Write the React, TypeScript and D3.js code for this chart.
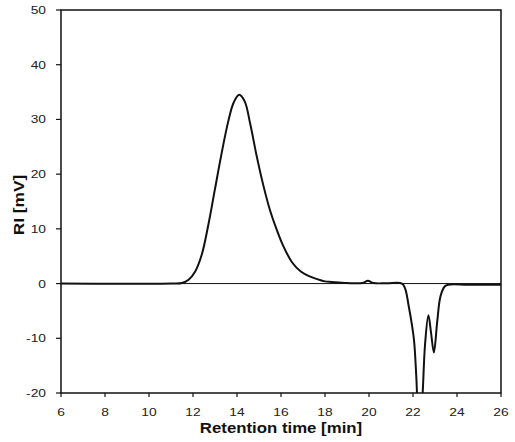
import React from 'react';
import * as d3 from 'd3';

// retention time [min] and RI signal [mV]
const times = [
  6, 11, 11.5, 11.8, 12.1, 12.4, 12.7, 13.0, 13.3, 13.6, 13.85, 14.1, 14.35, 14.6, 14.9,
  15.2, 15.5, 15.8, 16.1, 16.5, 16.9, 17.3, 17.8, 18.0, 18.3, 19.0, 19.7, 19.95, 20.2,
  20.8, 21.5, 21.65, 21.8, 21.95, 22.05, 22.15, 22.3, 22.44, 22.55, 22.7, 22.82, 22.95,
  23.1, 23.25, 23.45, 23.6, 24.5, 26,
];
const signal = [
  0, 0, 0.1, 0.7, 2.2, 5.3, 10.8, 17.3, 23.8, 29.6, 33.1, 34.5, 33.3, 29.2, 23.2,
  17.9, 13.4, 9.9, 6.9, 3.9, 2.2, 1.3, 0.6, 0.4, 0.3, 0.1, 0.1, 0.5, 0.1,
  0.05, 0, -1, -4, -7.5, -10.5, -17, -30, -20, -11, -5.8, -9, -12.6,
  -7, -2.3, -0.5, -0.2, -0.2, -0.2,
];

const xTicks = [6, 8, 10, 12, 14, 16, 18, 20, 22, 24, 26];
const yTicks = [-20, -10, 0, 10, 20, 30, 40, 50];

const W = 515;
const H = 442;
const margin = { top: 10, right: 14, bottom: 49, left: 61 };

const App: React.FC = () => {
  const x = d3.scaleLinear().domain([6, 26]).range([margin.left, W - margin.right]);
  const y = d3.scaleLinear().domain([-20, 50]).range([H - margin.bottom, margin.top]);

  const pts = times.map((t, i) => [t, signal[i]] as [number, number]);
  const line = d3.line<[number, number]>()
    .x(d => x(d[0]))
    .y(d => y(d[1]))
    .curve(d3.curveCatmullRom.alpha(0.5));

  const x0 = x(6), x1 = x(26), y0 = y(-20), y1 = y(50);
  const font = '"Liberation Sans", Arial, sans-serif';

  return (
    <svg width={W} height={H} style={{ position: 'absolute', left: 0, top: 0, background: '#fff' }}>
      <defs>
        <clipPath id="plot">
          <rect x={x0} y={y1} width={x1 - x0} height={y0 - y1} />
        </clipPath>
      </defs>

      {/* frame */}
      <rect x={x0} y={y1} width={x1 - x0} height={y0 - y1} fill="none" stroke="#111" strokeWidth={1.5} />

      {/* zero line */}
      <line x1={x0} x2={x1} y1={y(0)} y2={y(0)} stroke="#111" strokeWidth={1} />

      {/* y ticks */}
      {yTicks.map(v => (
        <g key={'y' + v}>
          <line x1={x0 - 5} x2={x0} y1={y(v)} y2={y(v)} stroke="#111" strokeWidth={1.2} />
          <text
            transform={`translate(${x0 - 15},${y(v) + 4}) scale(1.2,1)`}
            textAnchor="end" fontFamily={font} fontSize={11.5} fill="#222">
            {v}
          </text>
        </g>
      ))}

      {/* x ticks */}
      {xTicks.map(v => (
        <g key={'x' + v}>
          <line x1={x(v)} x2={x(v)} y1={y0} y2={y0 + 4} stroke="#111" strokeWidth={1.2} />
          <text
            transform={`translate(${x(v)},${y0 + 23}) scale(1.2,1)`}
            textAnchor="middle" fontFamily={font} fontSize={11.5} fill="#222">
            {v}
          </text>
        </g>
      ))}

      {/* trace */}
      <path d={line(pts) || ''} fill="none" stroke="#111" strokeWidth={2} clipPath="url(#plot)" strokeLinejoin="round" />

      {/* axis titles */}
      <text
        transform={`translate(${(x0 + x1) / 2},${H - 9}) scale(1.2,1)`}
        textAnchor="middle" fontFamily={font} fontSize={14} fontWeight="bold" fill="#111">
        Retention time [min]
      </text>
      <text
        transform={`translate(24,205) rotate(-90) scale(1.15,1)`}
        textAnchor="middle" fontFamily={font} fontSize={15} fontWeight="bold" fill="#111">
        RI [mV]
      </text>
    </svg>
  );
};

export default App;
